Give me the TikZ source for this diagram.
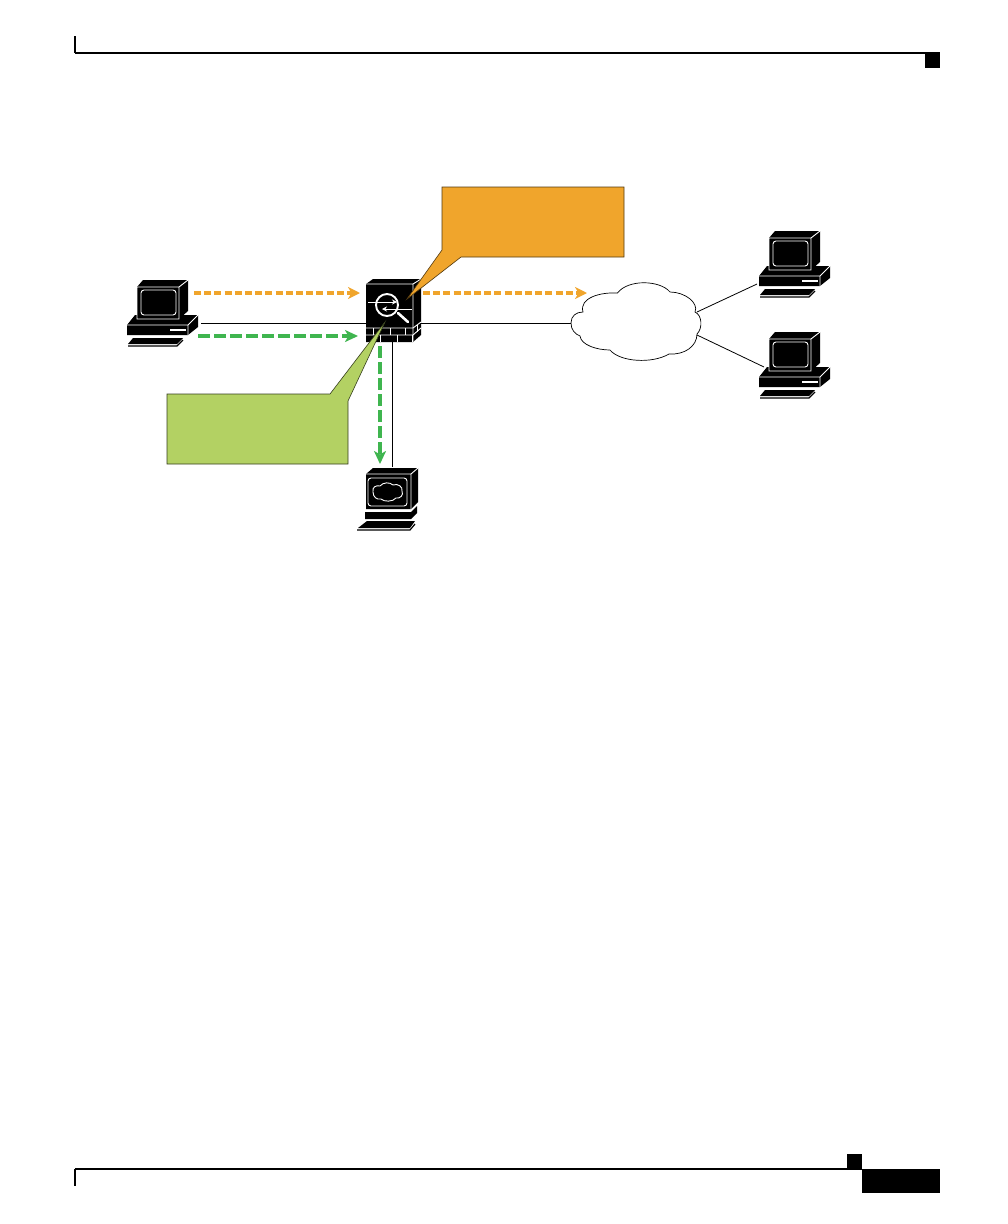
\documentclass[tikz,border=0pt]{standalone}
\usepackage{amsmath}
\usetikzlibrary{arrows.meta}
\definecolor{calloutorange}{HTML}{F0A52C}
\definecolor{calloutgreen}{HTML}{B3D163}
\definecolor{trafficgreen}{HTML}{3FB54F}
\tikzset{
  whiteline/.style={draw=white, line width=0.9pt},
  orangetraffic/.style={-{Stealth[length=12pt,width=12pt,inset=3.5pt]}, draw=calloutorange, line width=3.2pt, dash pattern=on 7pt off 3.2pt},
  greentraffic/.style={-{Stealth[length=13pt,width=12pt,inset=3.5pt]}, draw=trafficgreen, line width=3.2pt, dash pattern=on 12pt off 4pt},
  wire/.style={line width=0.8pt},
  calloutshape/.style={line width=0.6pt, draw=black!65!calloutorange},
  % Computer with monitor, base and keyboard
  pcbox/.pic={
    \fill (16,0) -- (61,0) -- (61,31) -- (52,39) -- (10,39) -- (10,7) -- cycle;
    \fill (8,35) -- (71,35) -- (71,47) -- (61,55) -- (0,55) -- (0,45) -- cycle;
    \fill (6,58) -- (56,58) -- (50,64) -- (1,64) -- cycle;
    \draw[line width=1.2pt] (1,66) -- (50,66) -- (56,60);
    \draw[whiteline] (10,7) -- (52,7) -- (61,0) (52,7) -- (52,39) -- (10,39) -- (10,7);
    \draw[whiteline] (0,45) -- (61,45) -- (71,35) (61,45) -- (61,55);
    \draw[whiteline, rounded corners=3pt] (14,10) rectangle (49,35);
    \fill[white] (43,49) rectangle (59,51);
  },
  % Firewall with magnifier and brick wall
  fwbox/.pic={
    \fill (7,0) -- (55,0) -- (55,56) -- (47,63) -- (0,63) -- (0,5) -- cycle;
    \draw[whiteline] (47,5) -- (55,0) (47,5) -- (47,63) (0,5) -- (47,5);
    \draw[whiteline] (0,49) -- (47,49) -- (55,43) (0,56) -- (47,56) -- (55,49);
    \foreach \bx in {7,24,39} {\draw[whiteline] (\bx,49) -- (\bx,56);}
    \foreach \bx in {14,31,46} {\draw[whiteline] (\bx,56) -- (\bx,63);}
    \draw[whiteline] (51,46) -- (51,53);
    \draw[draw=white, line width=1.9pt] (21,26) circle (11);
    \draw[draw=white, line width=2.6pt, line cap=round] (32,34) -- (42,43);
    \draw[whiteline, -{Stealth[length=5pt,width=5pt]}] (2,23) -- (31,23);
    \draw[whiteline, -{Stealth[length=5pt,width=5pt]}] (46,30) -- (16,30);
  },
  % Server with a cloud on its screen
  srvbox/.pic={
    \fill (16,0) -- (61,0) -- (61,34) -- (54,41) -- (9,41) -- (9,6) -- cycle;
    \fill (8,44) -- (54,44) -- (60,38) -- (60,45) -- (54,51) -- (8,51) -- cycle;
    \fill (10,53) -- (58,53) -- (53,60) -- (1,60) -- cycle;
    \draw[line width=1.2pt] (0,62) -- (53,62) -- (58,56);
    \draw[whiteline] (9,6) -- (54,6) -- (61,0) (54,6) -- (54,41);
    \draw[whiteline, rounded corners=3pt] (11,10) rectangle (50,38);
    \draw[whiteline] (16,24) .. controls (15,19) and (19,17) .. (23,18)
      .. controls (26,14) and (33,14) .. (36,17)
      .. controls (41,15) and (46,19) .. (45,23)
      .. controls (47,27) and (43,31) .. (39,30)
      .. controls (36,34) and (27,34) .. (24,31)
      .. controls (20,32) and (16,29) .. (16,24) -- cycle;
  }
}
\begin{document}
\begin{tikzpicture}[x=1pt, y=-1pt, >=stealth]
  \useasboundingbox (0,0) rectangle (1008,1224);

  % Page header
  \draw[line width=1.8pt] (75,36) -- (75,53);
  \draw[line width=1.2pt] (75,53) -- (940,53);
  \fill (925,53) rectangle (940,68);

  % Page footer
  \draw[line width=1.8pt] (75,1169) -- (75,1186);
  \draw[line width=1.2pt] (75,1169) -- (862,1169);
  \fill (847,1154) rectangle (862,1169);
  \fill (862,1169) rectangle (940,1193);

  % Connection points
  \coordinate (pcsrcE) at (201,323);
  \coordinate (fwW) at (366,323);
  \coordinate (fwE) at (420,323);
  \coordinate (fwS) at (392,342);
  \coordinate (srvN) at (392,467);
  \coordinate (cloudW) at (571,323);
  \coordinate (cloudNE) at (697,312);
  \coordinate (cloudSE) at (697,335);
  \coordinate (pctopW) at (757,284);
  \coordinate (pcbotW) at (764,367);

  % Wires
  \draw[wire] (pcsrcE) -- (fwW);
  \draw[wire] (fwE) -- (cloudW);
  \draw[wire] (fwS) -- (srvN);
  \draw[wire] (cloudNE) -- (pctopW);
  \draw[wire] (cloudSE) -- (pcbotW);

  % Cloud
  \draw[fill=white, line width=0.7pt] (571,323)
    .. controls (571,316) and (576,312) .. (583,312)
    .. controls (579,298) and (600,292) .. (617.5,293)
    .. controls (628,279) and (660,280) .. (670,292)
    .. controls (685,292) and (699,303) .. (695,312)
    .. controls (702,315) and (703,328) .. (697,334)
    .. controls (697,346) and (685,355) .. (669,354)
    .. controls (652,364) and (620,362) .. (610,350)
    .. controls (597,350) and (581,345) .. (580,336)
    .. controls (575,334) and (571,330) .. (571,323) -- cycle;

  % Devices
  \pic (pcsrc) at (127,280) {pcbox};
  \pic (pctop) at (759,231) {pcbox};
  \pic (pcbot) at (759,332) {pcbox};
  \pic (fw) at (366,279) {fwbox};
  \pic (srv) at (357,468) {srvbox};

  % Callouts
  \draw[calloutshape, fill=calloutorange] (442,187) -- (624,187) -- (624,257) -- (461,257)
    -- (407,299) -- (442,250) -- cycle;
  \draw[calloutshape, draw=black!70!calloutgreen, fill=calloutgreen] (167,394) -- (330,394)
    -- (385,322) -- (348,401) -- (348,464) -- (167,464) -- cycle;

  % Orange traffic
  \coordinate (orangeA) at (194,293);
  \coordinate (orangeB) at (360,293);
  \coordinate (orangeC) at (423,293);
  \coordinate (orangeD) at (587,293);
  \draw[orangetraffic] (orangeA) -- (orangeB);
  \draw[orangetraffic] (orangeC) -- (orangeD);

  % Green traffic
  \coordinate (greenA) at (198,336);
  \coordinate (greenB) at (358,336);
  \coordinate (greenC) at (380,346);
  \coordinate (greenD) at (380,464);
  \draw[greentraffic] (greenA) -- (greenB);
  \draw[greentraffic] (greenC) -- (greenD);
\end{tikzpicture}
\end{document}
